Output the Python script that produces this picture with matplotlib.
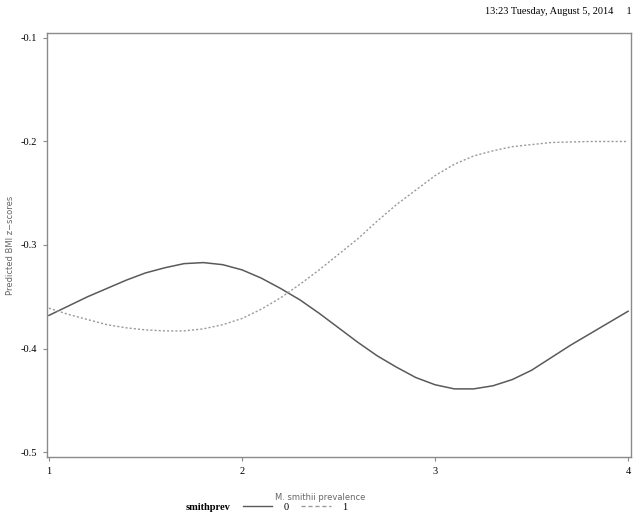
import numpy as np
import matplotlib
matplotlib.use("Agg")
import matplotlib.pyplot as plt
from matplotlib.lines import Line2D

# predicted values
prevalence = [1.0, 1.1, 1.2, 1.3, 1.4, 1.5, 1.6, 1.7, 1.8, 1.9,
              2.0, 2.1, 2.2, 2.3, 2.4, 2.5, 2.6, 2.7, 2.8, 2.9,
              3.0, 3.1, 3.2, 3.3, 3.4, 3.5, 3.6, 3.7, 3.8, 3.9, 4.0]
bmi_prev0 = [-0.368, -0.359, -0.350, -0.342, -0.334, -0.327, -0.322, -0.318, -0.317, -0.319,
             -0.324, -0.332, -0.342, -0.353, -0.366, -0.380, -0.394, -0.407, -0.418, -0.428,
             -0.435, -0.439, -0.439, -0.436, -0.430, -0.421, -0.409, -0.397, -0.386, -0.375, -0.364]
bmi_prev1 = [-0.361, -0.367, -0.372, -0.377, -0.380, -0.382, -0.383, -0.383, -0.381, -0.377,
             -0.371, -0.362, -0.351, -0.338, -0.324, -0.309, -0.294, -0.277, -0.261, -0.247,
             -0.233, -0.222, -0.214, -0.209, -0.205, -0.203, -0.201, -0.2005, -0.200, -0.200, -0.200]
x_ticks = [1, 2, 3, 4]
y_ticks = [-0.5, -0.4, -0.3, -0.2, -0.1]
legend_labels = ["0", "1"]

serif = "Liberation Serif"
sans = "DejaVu Sans"
frame_col = "#8a8a8a"

fig = plt.figure(figsize=(6.34, 5.2), dpi=100, facecolor="w")
ax = fig.add_axes([47 / 634, 63 / 520, 584 / 634, 424 / 520])

l0, = ax.plot(prevalence, bmi_prev0, color="#5a5a5a", lw=1.1, ls="-")
l1, = ax.plot(prevalence, bmi_prev1, color="#9a9a9a", lw=1.0, ls=(0, (1.5, 1.5)))

ax.set_xlim(0.99, 4.015)
ax.set_ylim(-0.5048, -0.0952)
ax.set_xticks(x_ticks)
ax.set_xticklabels([str(v) for v in x_ticks], fontfamily=serif, fontsize=7.5)
ax.set_yticks(y_ticks)
ax.set_yticklabels(["{:.1f}".format(v) for v in y_ticks], fontfamily=serif, fontsize=7.5)
ax.tick_params(direction="out", length=3, width=0.8, color=frame_col, pad=4)
for sp in ax.spines.values():
    sp.set_color(frame_col)
    sp.set_linewidth(1.0)

ax.set_xlabel("M. smithii prevalence", fontfamily=sans, fontsize=6, color="#666666")
ax.xaxis.set_label_coords((320 - 47) / 584, (457 - 493) / 424)
ax.set_ylabel("Predicted BMI z\u2212scores", fontfamily=sans, fontsize=6, color="#666666")
ax.yaxis.set_label_coords((15 - 47) / 584, 0.5)

# header line
fig.text(632 / 634, 1 - 12 / 520, "13:23 Tuesday, August 5, 2014     1",
         ha="right", va="center", fontfamily=serif, fontsize=7.5)

# legend
fig.text(230 / 634, 1 - 507 / 520, "smithprev", ha="right", va="center",
         fontfamily=serif, fontsize=7.5, fontweight="bold")
handles = [Line2D([], [], color="#5a5a5a", lw=1.0, ls="-"),
           Line2D([], [], color="#9a9a9a", lw=1.0, ls=(0, (3, 2)))]
fig.legend(handles, legend_labels, ncol=2, frameon=False, loc="center left",
           bbox_to_anchor=(238 / 634, 1 - 507 / 520), prop={"family": serif, "size": 7.5},
           handlelength=2.8, handletextpad=1.1, columnspacing=1.2, borderpad=0)

fig.savefig("out.png", dpi=100)
